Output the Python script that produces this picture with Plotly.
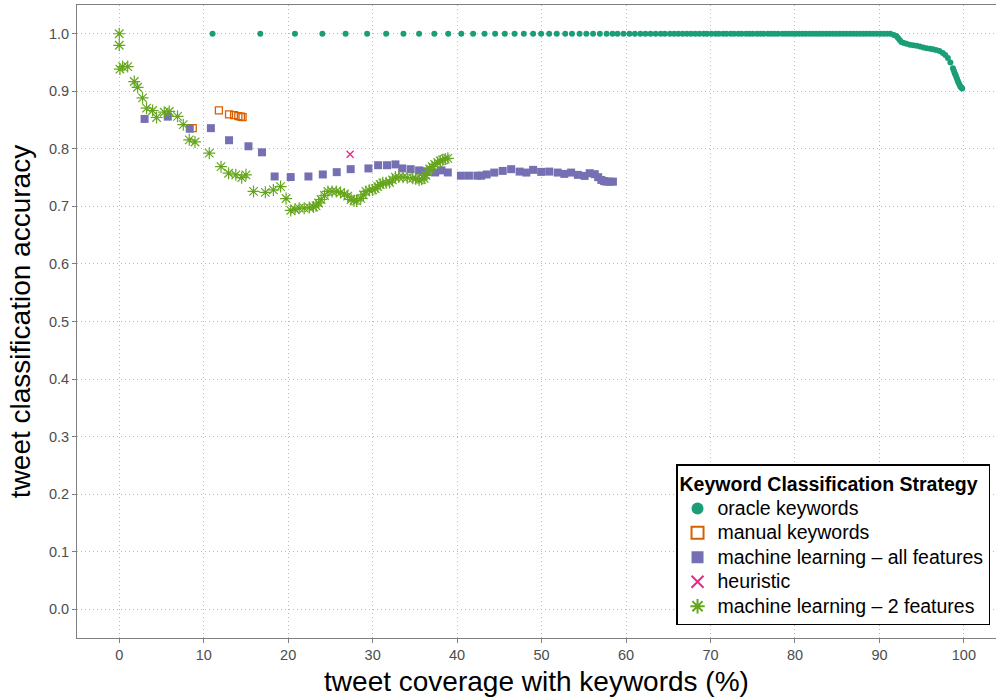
import plotly.graph_objects as go

# Keyword coverage (%) vs. tweet classification accuracy, one series per strategy
oracle_x = [11.05, 16.7, 20.8, 24.05, 26.8, 29.35, 31.6, 33.65, 35.5, 37.3, 38.95,
            40.5, 41.9, 43.25, 44.5, 45.65, 46.8, 47.9, 49.0, 49.95, 50.9, 51.8,
            52.8, 53.6, 54.5, 55.3, 56.1, 56.9, 57.7, 58.4, 59.0, 59.7, 60.4, 61.05,
            61.7, 62.3, 62.9, 63.5, 64.1, 64.6, 65.2, 65.7, 66.2, 66.7, 67.2, 67.7,
            68.2, 68.7, 69.2, 69.6, 70.1, 70.6, 71.0, 71.5, 71.9, 72.4, 72.8, 73.3,
            73.7, 74.2, 74.6, 75.0, 75.5, 75.9, 76.3, 76.8, 77.2, 77.6, 78.0, 78.5,
            78.9, 79.3, 79.7, 80.1, 80.5, 80.9, 81.3, 81.7, 82.1, 82.5, 82.9, 83.3,
            83.7, 84.1, 84.5, 84.9, 85.3, 85.7, 86.1, 86.5, 86.9, 87.3, 87.7, 88.1,
            88.5, 88.9, 89.3, 89.7, 90.1, 90.5, 90.9, 91.3, 91.7, 92.0, 92.2, 92.4,
            92.6, 92.9, 93.2, 93.6, 94.0, 94.4, 94.8, 95.2, 95.6, 96.0, 96.35, 96.7,
            97.1, 97.5, 97.8, 98.1, 98.4, 98.7, 98.8, 98.9, 99.0, 99.1, 99.2, 99.3,
            99.4, 99.5, 99.6, 99.7, 99.8, 99.9, 99.95]
oracle_y = [1.0] * 102 + [0.998, 0.996, 0.9925, 0.989, 0.9855, 0.984, 0.9826, 0.981,
            0.980, 0.979, 0.978, 0.976, 0.975, 0.974, 0.973, 0.972, 0.970, 0.9664,
            0.963, 0.958, 0.950, 0.940, 0.936, 0.932, 0.929, 0.925, 0.921, 0.917,
            0.914, 0.911, 0.908, 0.906, 0.905]

manual_x = [8.7, 11.8, 13.0, 13.6, 14.1, 14.4, 14.6]
manual_y = [0.836, 0.867, 0.860, 0.8585, 0.857, 0.856, 0.855]

ml_all_x = [3.0, 5.75, 8.35, 10.85, 13.0, 15.3, 16.9, 18.4, 20.3, 22.4, 24.1, 25.75,
            27.4, 29.5, 30.65, 31.7, 32.7, 33.5, 34.5, 35.5, 36.4, 37.4, 38.15, 38.9,
            40.45, 41.4, 42.4, 42.85, 43.5, 44.4, 45.4, 46.4, 47.4, 48.2, 49.0, 49.95,
            50.9, 51.9, 52.7, 53.5, 54.3, 55.1, 55.7, 56.3, 56.7, 57.07, 57.4, 57.7,
            58.1, 58.45]
ml_all_y = [0.852, 0.856, 0.835, 0.836, 0.815, 0.8045, 0.794, 0.752, 0.751, 0.752,
            0.7555, 0.7595, 0.7647, 0.766, 0.7716, 0.7716, 0.773, 0.766, 0.7647,
            0.7626, 0.761, 0.759, 0.7626, 0.759, 0.7534, 0.7534, 0.7534, 0.7534,
            0.7555, 0.7588, 0.7617, 0.7647, 0.7605, 0.7588, 0.7635, 0.760, 0.7605,
            0.7588, 0.7565, 0.7588, 0.7548, 0.753, 0.7577, 0.756, 0.7508, 0.746,
            0.744, 0.743, 0.743, 0.743]

heuristic_x = [27.33]
heuristic_y = [0.7907]

ml_two_x = [0.0, 0.0, 0.08, 0.4, 1.0, 1.78, 2.17, 2.76, 3.24, 3.95, 4.42, 5.33, 5.92,
            6.9, 7.58, 8.29, 8.97, 10.66, 12.05, 12.95, 13.8, 14.5, 15.0, 15.9, 17.3,
            18.25, 19.1, 19.75, 20.3, 20.8, 21.3, 21.9, 22.5, 23.0, 23.3, 23.6, 23.9,
            24.3, 24.7, 25.2, 25.7, 26.2, 26.65, 27.05, 27.45, 27.8, 28.1, 28.6, 28.9,
            29.2, 29.6, 30.0, 30.3, 30.6, 30.9, 31.2, 31.6, 32.0, 32.35, 32.7, 33.1,
            33.6, 34.1, 34.75, 35.1, 35.5, 35.8, 36.1, 36.3, 36.5, 36.75, 37.05, 37.35,
            37.7, 38.0, 38.3, 38.6, 38.9]
ml_two_y = [1.0, 0.980, 0.9386, 0.943, 0.943, 0.917, 0.907, 0.8887, 0.8707, 0.8667,
            0.8545, 0.8637, 0.865, 0.8565, 0.842, 0.8157, 0.812, 0.7925, 0.769, 0.7577,
            0.7548, 0.750, 0.7548, 0.726, 0.7245, 0.7287, 0.7345, 0.7137, 0.693, 0.695,
            0.697, 0.697, 0.698, 0.699, 0.701, 0.706, 0.712, 0.719, 0.726, 0.726, 0.726,
            0.724, 0.7217, 0.718, 0.712, 0.710, 0.7096, 0.714, 0.720, 0.726, 0.728,
            0.7287, 0.731, 0.7345, 0.738, 0.741, 0.741, 0.7415, 0.746, 0.751, 0.751,
            0.7508, 0.750, 0.749, 0.748, 0.746, 0.747, 0.749, 0.754, 0.7605, 0.765,
            0.769, 0.773, 0.7762, 0.779, 0.7809, 0.7825, 0.7836]

x_ticks = [0, 10, 20, 30, 40, 50, 60, 70, 80, 90, 100]
y_ticks = [0.0, 0.1, 0.2, 0.3, 0.4, 0.5, 0.6, 0.7, 0.8, 0.9, 1.0]

GRAY_TEXT = "#4d4d4d"
FONT = "Liberation Sans, Arial, sans-serif"


def legend_label(text):
    # wider legend text while the entry spacing follows the legend font size
    return '<span style="font-size:19.5px">' + text + "</span>"


fig = go.Figure()

fig.add_trace(go.Scatter(
    x=oracle_x, y=oracle_y, mode="markers", name=legend_label("oracle keywords"),
    marker=dict(symbol="circle", size=6, color="#1B9E77"),
))
fig.add_trace(go.Scatter(
    x=manual_x, y=manual_y, mode="markers", name=legend_label("manual keywords"),
    marker=dict(symbol="square-open", size=7, color="#D95F02",
                line=dict(width=1.3, color="#D95F02")),
))
fig.add_trace(go.Scatter(
    x=ml_all_x, y=ml_all_y, mode="markers",
    name=legend_label("machine learning \u2013 all features"),
    marker=dict(symbol="square", size=8, color="#7570B3"),
))
fig.add_trace(go.Scatter(
    x=heuristic_x, y=heuristic_y, mode="markers", name=legend_label("heuristic"),
    marker=dict(symbol="x-thin-open", size=7, color="#E7298A",
                line=dict(width=1.3, color="#E7298A")),
))
fig.add_trace(go.Scatter(
    x=ml_two_x, y=ml_two_y, mode="markers",
    name=legend_label("machine learning \u2013 2 features"),
    marker=dict(symbol="asterisk-open", size=10, color="#66A61E",
                line=dict(width=1.2, color="#66A61E")),
))

axis_common = dict(
    showgrid=True, gridcolor="#b8b8b8", griddash="1px,3px", gridwidth=1,
    zeroline=False, ticks="outside", ticklen=4, tickcolor="#7f7f7f",
    tickfont=dict(size=14.5, color=GRAY_TEXT, family=FONT),
    showline=True, linecolor="#7f7f7f", linewidth=1,
)

fig.update_xaxes(
    **axis_common, range=[-5.0, 103.8], tickmode="array",
    tickvals=x_ticks, mirror=True,
    title=dict(text="tweet coverage with keywords (%)",
               font=dict(size=28, color="black", family=FONT), standoff=8),
)
fig.update_yaxes(
    **axis_common, range=[-0.05, 1.05], tickmode="array",
    tickvals=y_ticks, tickformat=".1f", mirror=False,
    title=dict(text="tweet classification accuracy",
               font=dict(size=28, color="black", family=FONT), standoff=10),
)

fig.update_layout(
    width=996, height=700,
    margin=dict(l=77, r=0, t=5, b=62),
    paper_bgcolor="white", plot_bgcolor="white",
    font=dict(family=FONT, color="black"),
    legend=dict(
        title=dict(text="<b>Keyword Classification Strategy</b>",
                   font=dict(size=19.5, color="black", family=FONT)),
        font=dict(size=16.5, color="black", family=FONT),
        x=0.9935, xanchor="right", y=0.020, yanchor="bottom",
        bgcolor="white", bordercolor="black", borderwidth=1.5,
        itemsizing="constant",
    ),
)

fig.write_html("out.html")
